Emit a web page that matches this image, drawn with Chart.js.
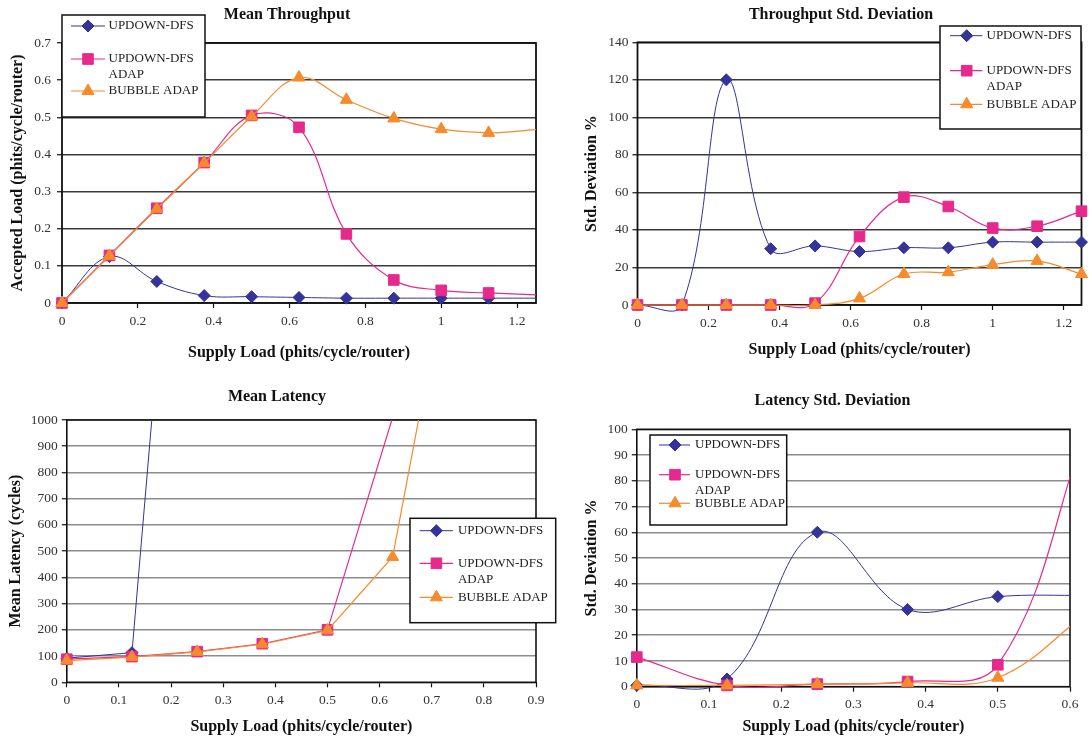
<!DOCTYPE html>
<html>
<head>
<meta charset="utf-8">
<script src="https://cdn.jsdelivr.net/npm/chart.js@4/dist/chart.umd.min.js"></script>
<style>
html,body{margin:0;padding:0;background:#fff;}
body{width:1090px;height:738px;position:relative;overflow:hidden;}
canvas{position:absolute;}
</style>
</head>
<body>
<canvas id="c1"></canvas>
<canvas id="c2"></canvas>
<canvas id="c3"></canvas>
<canvas id="c4"></canvas>
<script>
// ---------------- DATA ----------------
const seriesNames = ['UPDOWN-DFS', 'UPDOWN-DFS ADAP', 'BUBBLE ADAP'];
const loadX = [0, 0.125, 0.25, 0.375, 0.5, 0.625, 0.75, 0.875, 1, 1.125, 1.25];

// Mean Throughput (phits/cycle/router)
const thrUpdown     = [0, 0.125, 0.058, 0.020, 0.017, 0.015, 0.013, 0.013, 0.013, 0.013, 0.013];
const thrUpdownAdap = [0, 0.128, 0.255, 0.378, 0.505, 0.473, 0.186, 0.062, 0.034, 0.027, 0.022];
const thrBubble     = [0, 0.127, 0.253, 0.377, 0.502, 0.607, 0.547, 0.497, 0.468, 0.458, 0.467];

// Throughput Std. Deviation %
const thrStdUpdown     = [0, 0, 120, 30, 31.5, 28.5, 30.5, 30.5, 33.5, 33.5, 33.5];
const thrStdUpdownAdap = [0, 0, 0, 0, 1, 36.5, 57.5, 52.5, 41, 42, 50];
const thrStdBubble     = [0, 0, 0, 0, 0, 3.5, 16.5, 17.5, 21.5, 23.5, 16.5];

// Mean Latency (cycles)
const latUpdown     = [92, 113, 3030];
const latUpdownAdap = [88, 98, 117, 147, 200, 1010];
const latBubble     = [83, 96, 116, 145, 198, 478, 1790];

// Latency Std. Deviation %
const latStdUpdown     = [0.5, 3, 60, 30, 35, 35.5];
const latStdUpdownAdap = [11.5, 0.5, 1, 2, 8.5, 103];
const latStdBubble     = [0.5, 0.5, 1, 1.5, 3.5, 29];

// ---------------- STYLE / LAYOUT ----------------
const FONT = "'Liberation Serif', 'Times New Roman', serif";
const COLORS = ['#333399', '#E6298C', '#F58B2C'];
const STYLES = ['rectRot', 'rect', 'triangle'];
const RADII = [6, 7.5, 7];
const WIDTHS = [1, 1.2, 1.2];

const panels = {
  c1: { ox: 0, oy: 0, w: 545, h: 372, yAxisW: 62, xAxisH: 60.5, pad: {left: 0, top: 43, right: 9, bottom: 8.5},
        yTitlePad: 8.4, title: 'Mean Throughput', tx: 287, ty: 15, frameW: 1.8, grid: '#3a3a3a', tickPad: 6,
        legend: { box: [62, 15, 143, 102], rows: [26, 59, 91], lineX: [71, 105], markX: 88, textX: 108.5, gap: 16 } },
  c2: { ox: 545, oy: 0, w: 545, h: 372, yAxisW: 92.5, xAxisH: 56, pad: {left: 0, top: 42.3, right: 5.5, bottom: 11},
        yTitlePad: 37.4, title: 'Throughput Std. Deviation', tx: 841, ty: 15, frameW: 1.8, grid: '#3a3a3a', tickPad: 4,
        legend: { box: [940, 26, 141, 103], rows: [35.7, 70.7, 104.3], lineX: [950, 982.3], markX: 966.7, textX: 986.5, gap: 16 } },
  c3: { ox: 0, oy: 372, w: 560, h: 366, yAxisW: 66.8, xAxisH: 55.4, pad: {left: 0, top: 48, right: 24, bottom: 0.3},
        yTitlePad: 6, title: 'Mean Latency', tx: 277, ty: 396.7, frameW: 1.6, grid: '#8c8c8c', tickPad: 4,
        legend: { box: [410, 518.3, 145.7, 104.4], rows: [530.7, 563.3, 597.3], lineX: [419.6, 452.9], markX: 436.4, textX: 457.9, gap: 16.7 } },
  c4: { ox: 560, oy: 372, w: 530, h: 366, yAxisW: 76.8, xAxisH: 51, pad: {left: 0, top: 57.3, right: 20, bottom: 0.3},
        yTitlePad: 22.7, title: 'Latency Std. Deviation', tx: 832.5, ty: 400.7, frameW: 1.6, grid: '#8c8c8c', tickPad: 4,
        legend: { box: [650, 435, 136.7, 90], rows: [445, 474.7, 503.3], lineX: [659, 690], markX: 675, textX: 695, gap: 15.6 } }
};

function drawMarker(ctx, style, r, x, y) {
  ctx.beginPath();
  if (style === 'rectRot') {
    ctx.moveTo(x - r, y); ctx.lineTo(x, y - r); ctx.lineTo(x + r, y); ctx.lineTo(x, y + r); ctx.closePath();
  } else if (style === 'rect') {
    const s = Math.SQRT1_2 * r; ctx.rect(x - s, y - s, 2 * s, 2 * s);
  } else {
    let a = 0;
    ctx.moveTo(x + Math.sin(a) * r, y - Math.cos(a) * r);
    a += 2 * Math.PI / 3; ctx.lineTo(x + Math.sin(a) * r, y - Math.cos(a) * r);
    a += 2 * Math.PI / 3; ctx.lineTo(x + Math.sin(a) * r, y - Math.cos(a) * r);
    ctx.closePath();
  }
  ctx.fill(); ctx.stroke();
}

const decor = {
  id: 'decor',
  beforeDatasetsDraw(chart) {
    const p = panels[chart.canvas.id], a = chart.chartArea, ctx = chart.ctx;
    ctx.save();
    ctx.strokeStyle = '#111'; ctx.lineWidth = p.frameW;
    ctx.strokeRect(a.left, a.top, a.right - a.left, a.bottom - a.top);
    ctx.restore();
  },
  afterDraw(chart) {
    const p = panels[chart.canvas.id], ctx = chart.ctx;
    ctx.save();
    ctx.font = 'bold 16px ' + FONT; ctx.fillStyle = '#111';
    ctx.textAlign = 'center'; ctx.textBaseline = 'middle';
    ctx.fillText(p.title, p.tx - p.ox, p.ty - p.oy);
    const lg = p.legend;
    const bx = lg.box[0] - p.ox, by = lg.box[1] - p.oy, bw = lg.box[2], bh = lg.box[3];
    ctx.fillStyle = '#fff'; ctx.fillRect(bx, by, bw, bh);
    ctx.strokeStyle = '#111'; ctx.lineWidth = 1.5; ctx.strokeRect(bx, by, bw, bh);
    ctx.font = '13px ' + FONT; ctx.textAlign = 'left';
    const maxW = bx + bw - (lg.textX - p.ox) + 2;
    chart.data.datasets.forEach((ds, i) => {
      const y = lg.rows[i] - p.oy;
      ctx.strokeStyle = ds.borderColor; ctx.fillStyle = ds.borderColor; ctx.lineWidth = ds.borderWidth;
      ctx.beginPath(); ctx.moveTo(lg.lineX[0] - p.ox, y); ctx.lineTo(lg.lineX[1] - p.ox, y); ctx.stroke();
      ctx.lineWidth = 1;
      drawMarker(ctx, STYLES[i], RADII[i], lg.markX - p.ox, y);
      const words = ds.label.split(' ');
      const lines = []; let cur = '';
      words.forEach(w => {
        const t = cur ? cur + ' ' + w : w;
        if (cur && ctx.measureText(t).width > maxW) { lines.push(cur); cur = w; } else cur = t;
      });
      lines.push(cur);
      ctx.fillStyle = '#222';
      lines.forEach((ln, k) => ctx.fillText(ln, lg.textX - p.ox, y + k * lg.gap));
    });
    ctx.restore();
  }
};

const fmt = v => String(Math.round(v * 1000) / 1000);

function makeChart(id, cfg) {
  const p = panels[id];
  const cv = document.getElementById(id);
  cv.width = p.w; cv.height = p.h;
  cv.style.left = p.ox + 'px'; cv.style.top = p.oy + 'px';
  cv.style.width = p.w + 'px'; cv.style.height = p.h + 'px';
  const datasets = cfg.series.map((arr, i) => ({
    label: seriesNames[i],
    data: arr.map((y, j) => ({x: cfg.xs[j], y: y})),
    borderColor: COLORS[i], backgroundColor: COLORS[i],
    pointBackgroundColor: COLORS[i], pointBorderColor: COLORS[i],
    borderWidth: WIDTHS[i], pointBorderWidth: 1,
    pointStyle: STYLES[i],
    pointRadius: c => {
      const r = c.raw;
      if (!r) return RADII[i];
      if (r.y > cfg.yMax) return 0;
      if (cfg.hideAtXMax && r.x >= cfg.xMax) return 0;
      return RADII[i];
    },
    tension: cfg.tension, cubicInterpolationMode: 'default',
    clip: cfg.clip, order: 3 - i, fill: false
  }));
  new Chart(cv, {
    type: 'line',
    data: { datasets },
    plugins: [decor],
    options: {
      responsive: false, animation: false, events: [],
      devicePixelRatio: 1,
      layout: { padding: p.pad },
      elements: { line: { capBezierPoints: false } },
      plugins: { legend: { display: false }, title: { display: false }, tooltip: { enabled: false } },
      scales: {
        x: {
          type: 'linear', min: 0, max: cfg.xMax,
          ticks: { stepSize: cfg.xStep, includeBounds: false, autoSkip: false, maxRotation: 0, padding: 5,
                   color: '#333', font: { family: FONT, size: 13.5 }, callback: fmt },
          grid: { drawOnChartArea: false, drawTicks: true, tickLength: 5, tickColor: '#111', tickWidth: 1.2 },
          border: { display: false },
          title: { display: true, text: 'Supply Load (phits/cycle/router)', color: '#111',
                   font: { family: FONT, size: 16, weight: 'bold' }, padding: { top: 0, bottom: 1.4 } },
          afterFit: s => { s.height = p.xAxisH; }
        },
        y: {
          type: 'linear', min: 0, max: cfg.yMax,
          ticks: { stepSize: cfg.yStep, includeBounds: false, autoSkip: false, padding: p.tickPad,
                   color: '#333', font: { family: FONT, size: 13.5 }, callback: fmt },
          grid: { color: p.grid, lineWidth: 1.5, drawTicks: true, tickLength: 5, tickColor: '#111', tickWidth: 1.2 },
          border: { display: false },
          title: { display: true, text: cfg.yTitle, color: '#111',
                   font: { family: FONT, size: 16, weight: 'bold' }, padding: { top: p.yTitlePad, bottom: 0 } },
          afterFit: s => { s.width = p.yAxisW; }
        }
      }
    }
  });
}

makeChart('c1', { xs: loadX, series: [thrUpdown, thrUpdownAdap, thrBubble], xMax: 1.25, xStep: 0.2, yMax: 0.7, yStep: 0.1,
  yTitle: 'Accepted Load (phits/cycle/router)', tension: 0.38, hideAtXMax: true,
  clip: { left: 8, right: 0, top: 8, bottom: 8 } });
makeChart('c2', { xs: loadX, series: [thrStdUpdown, thrStdUpdownAdap, thrStdBubble], xMax: 1.25, xStep: 0.2, yMax: 140, yStep: 20,
  yTitle: 'Std. Deviation %', tension: 0.38, hideAtXMax: false,
  clip: { left: 8, right: 8, top: 8, bottom: 8 } });
makeChart('c3', { xs: loadX, series: [latUpdown, latUpdownAdap, latBubble], xMax: 0.9, xStep: 0.1, yMax: 1000, yStep: 100,
  yTitle: 'Mean Latency (cycles)', tension: 0, hideAtXMax: false,
  clip: { left: 8, right: 0, top: 0, bottom: 8 } });
makeChart('c4', { xs: loadX, series: [latStdUpdown, latStdUpdownAdap, latStdBubble], xMax: 0.6, xStep: 0.1, yMax: 100, yStep: 10,
  yTitle: 'Std. Deviation %', tension: 0.38, hideAtXMax: false,
  clip: { left: 8, right: 0, top: 0, bottom: 8 } });
</script>
</body>
</html>
